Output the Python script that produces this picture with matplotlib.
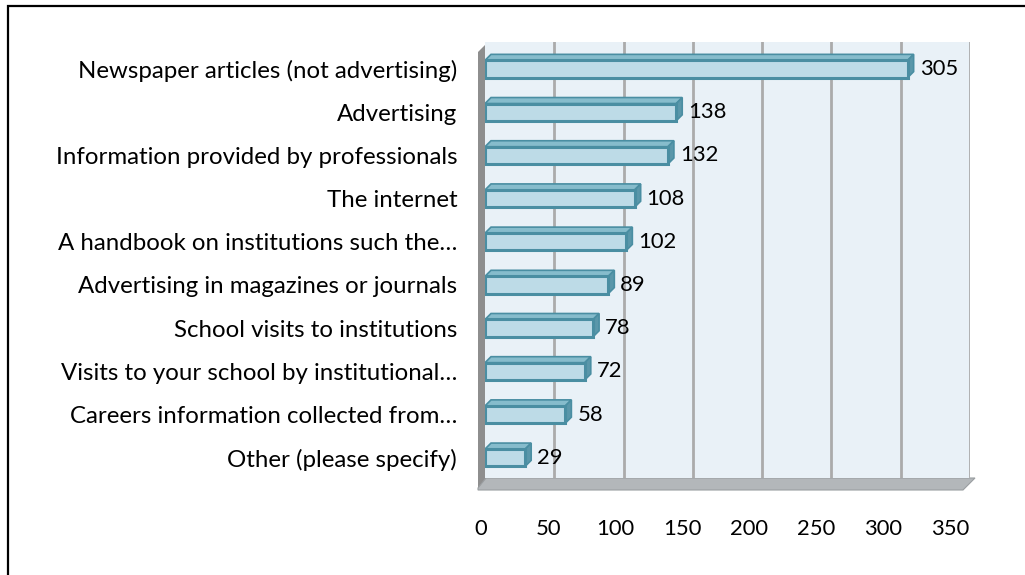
import matplotlib
matplotlib.use("Agg")
import matplotlib.pyplot as plt
from matplotlib.patches import Rectangle, Polygon
import numpy as np

categories = [
    "Newspaper articles (not advertising)",
    "Advertising",
    "Information provided by professionals",
    "The internet",
    "A handbook on institutions such the\u2026",
    "Advertising in magazines or journals",
    "School visits to institutions",
    "Visits to your school by institutional\u2026",
    "Careers information collected from\u2026",
    "Other (please specify)",
]
values = [305, 138, 132, 108, 102, 89, 78, 72, 58, 29]
x_ticks = [0, 50, 100, 150, 200, 250, 300, 350]

W, H, DPI = 1025, 575, 100
plt.rcParams["font.family"] = ["Lato", "DejaVu Sans"]

fig = plt.figure(figsize=(W / DPI, H / DPI), dpi=DPI)
fig.patch.set_facecolor("white")


def px_box(x0, y0, x1, y1):
    return [x0 / W, 1 - y1 / H, (x1 - x0) / W, (y1 - y0) / H]


def fig_pt(x, y):
    return [x / W, 1 - y / H]


# outer chart frame (right and bottom sides run off the canvas)
fig.patches.append(Rectangle((8 / W, -1.0), 3.0, 2.0 - 6 / H,
                             transform=fig.transFigure, fill=False,
                             edgecolor="black", linewidth=1.6))

wall = "#e9f1f7"
face = "#bddbe7"
edge = "#4a8ea2"
side = "#5a97aa"
top = "#86bccc"

ax = fig.add_axes(px_box(485, 42, 970, 478))
ax.set_facecolor(wall)
ax.set_xlim(0, 350)
n = len(categories)
y = np.arange(n)
ax.set_ylim(n - 0.53, -0.625)

for t in x_ticks[1:]:
    ax.axvline(t, color="#ababab", linewidth=2.0, zorder=1)

for s in ax.spines.values():
    s.set_visible(False)
ax.set_xticks([])
ax.set_yticks(y)
ax.set_yticklabels(categories, fontsize=17.3, color="black")
ax.tick_params(axis="y", length=0, pad=20)

# depth offset of the pseudo-3D faces, in pixels
off = np.array([6.0, 6.0])
bar_h = 0.40
inv = ax.transData.inverted()

for yi, v in zip(y, values):
    x0, x1 = 0, v
    yt = yi - bar_h / 2
    yb = yi + bar_h / 2
    tl_b = inv.transform(ax.transData.transform((x0, yt)) + off)
    tr_b = inv.transform(ax.transData.transform((x1, yt)) + off)
    br_b = inv.transform(ax.transData.transform((x1, yb)) + off)
    ax.add_patch(Polygon([[x0, yt], [x1, yt], tr_b, tl_b], closed=True,
                         facecolor=top, edgecolor=edge, linewidth=1.2, zorder=3))
    ax.add_patch(Polygon([[x1, yt], tr_b, br_b, [x1, yb]], closed=True,
                         facecolor=side, edgecolor=edge, linewidth=1.2, zorder=3))
    ax.add_patch(Rectangle((x0, yt), v, bar_h, facecolor=face,
                           edgecolor=edge, linewidth=2.2, zorder=4))
    ax.annotate(str(v), xy=(v, yi), xytext=(12, 0), textcoords="offset pixels",
                ha="left", va="center", fontsize=15.8, color="black", zorder=5)

# left wall and floor
fig.patches.append(Polygon([fig_pt(478, 488), fig_pt(478, 52), fig_pt(488, 42),
                            fig_pt(496, 42), fig_pt(496, 478), fig_pt(486, 488)],
                           closed=True, transform=fig.transFigure,
                           facecolor="#8e8e8e", edgecolor="none", zorder=0.5))
fig.patches.append(Polygon([fig_pt(478, 488), fig_pt(486, 478), fig_pt(975, 478),
                            fig_pt(963, 490), fig_pt(478, 490)],
                           closed=True, transform=fig.transFigure,
                           facecolor="#b3b7ba", edgecolor="#9a9ea1",
                           linewidth=0.8, zorder=0.5))
ax.set_zorder(1)

# value axis labels along the front edge
axt = fig.add_axes(px_box(481, 490, 950, 500))
axt.set_xlim(0, 350)
axt.set_xticks(x_ticks)
axt.set_xticklabels([str(t) for t in x_ticks], fontsize=15.8)
axt.tick_params(axis="x", length=0, pad=14)
axt.set_yticks([])
axt.patch.set_visible(False)
for s in axt.spines.values():
    s.set_visible(False)

fig.savefig("out.png", dpi=DPI)
